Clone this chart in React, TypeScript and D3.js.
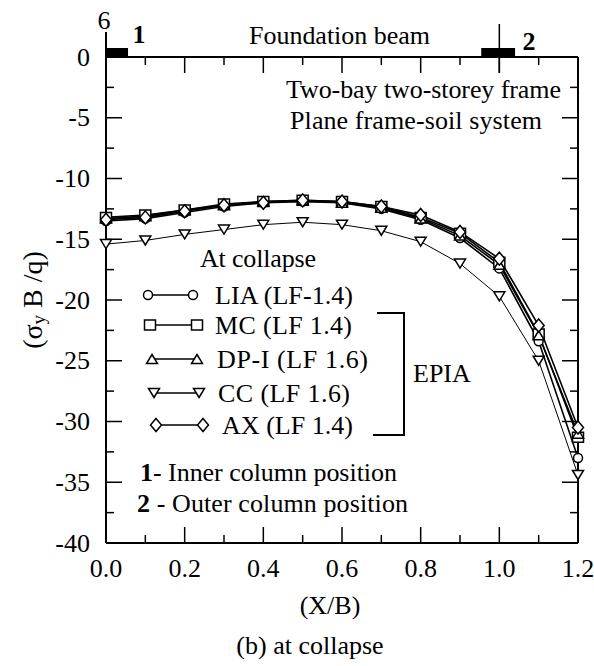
import React from "react";
import * as d3 from "d3";

const xVals = [0, 0.1, 0.2, 0.3, 0.4, 0.5, 0.6, 0.7, 0.8, 0.9, 1.0, 1.1, 1.2];
const liaVals = [-13.5, -13.3, -12.8, -12.3, -12.0, -11.9, -12.0, -12.5, -13.4, -14.9, -17.4, -23.4, -33.0];
const mcVals = [-13.2, -13.0, -12.6, -12.1, -11.9, -11.8, -11.9, -12.3, -13.2, -14.5, -16.9, -22.8, -31.3];
const dpVals = [-13.3, -13.1, -12.6, -12.2, -11.9, -11.8, -12.0, -12.4, -13.3, -14.7, -17.1, -22.9, -31.0];
const ccVals = [-15.4, -15.1, -14.6, -14.2, -13.8, -13.6, -13.8, -14.3, -15.2, -17.0, -19.7, -25.0, -34.4];
const axVals = [-13.4, -13.2, -12.7, -12.2, -12.0, -11.8, -11.9, -12.3, -13.0, -14.4, -16.6, -22.1, -30.5];

const seriesNames = ["LIA (LF-1.4)", "MC (LF 1.4)", "DP-I  (LF 1.6)", "CC (LF 1.6)", "AX (LF 1.4)"];
const seriesSymbols = ["circle", "square", "triUp", "triDown", "diamond"];
const seriesValues = [liaVals, mcVals, dpVals, ccVals, axVals];

const xTickLabels = ["0.0", "0.2", "0.4", "0.6", "0.8", "1.0", "1.2"];
const yTickValues = [0, -5, -10, -15, -20, -25, -30, -35, -40];

const FONT = "'Liberation Serif', 'Times New Roman', serif";

function symbolPath(type: string, cx: number, cy: number, s = 1): string {
  switch (type) {
    case "circle": {
      const r = 4.5 * s;
      return `M${cx - r},${cy}a${r},${r} 0 1,0 ${2 * r},0a${r},${r} 0 1,0 ${-2 * r},0Z`;
    }
    case "square": {
      const w = 5.5 * s, h = 5 * s;
      return `M${cx - w},${cy - h}H${cx + w}V${cy + h}H${cx - w}Z`;
    }
    case "triUp": {
      const w = 5.5 * s, h = 4.5 * s;
      return `M${cx},${cy - h}L${cx + w},${cy + h}L${cx - w},${cy + h}Z`;
    }
    case "triDown": {
      const w = 5.5 * s, h = 4.5 * s;
      return `M${cx - w},${cy - h}L${cx + w},${cy - h}L${cx},${cy + h}Z`;
    }
    default: {
      const w = 5.5 * s, h = 6.5 * s;
      return `M${cx},${cy - h}L${cx + w},${cy}L${cx},${cy + h}L${cx - w},${cy}Z`;
    }
  }
}

export default function App() {
  const W = 594, H = 666;
  const FS = 26;
  const x = d3.scaleLinear().domain([0, 1.2]).range([106, 578]);
  const y = d3.scaleLinear().domain([0, -40]).range([57, 543]);
  const line = d3.line<number>().x((_, i) => x(xVals[i])).y((v) => y(v));

  const majorX = d3.range(0, 1.2001, 0.2);
  const minorX = d3.range(0.1, 1.2, 0.2);
  const majorY = d3.range(0, -40.001, -5);
  const minorY = d3.range(-2.5, -40, -5);

  const legendRows = [
    { y: 295, x1: 148, x2: 193, tx: 215, len: 138 },
    { y: 325, x1: 150, x2: 197, tx: 215, len: 137 },
    { y: 359, x1: 152, x2: 197, tx: 217, len: 151 },
    { y: 393, x1: 154, x2: 199, tx: 218, len: 132 },
    { y: 425, x1: 156, x2: 203, tx: 222, len: 131 },
  ];

  return (
    <svg width={W} height={H} style={{ position: "absolute", left: 0, top: 0, background: "#fff" }} fontFamily={FONT}>
      <rect x={0} y={0} width={W} height={H} fill="#fff" />
      {/* frame */}
      <g stroke="#000" strokeWidth={2} fill="none">
        <line x1={x(0)} y1={32} x2={x(0)} y2={y(-40)} />
        <line x1={x(0)} y1={y(0)} x2={x(1.2)} y2={y(0)} />
        <line x1={x(1.2)} y1={y(0)} x2={x(1.2)} y2={y(-40)} />
        <line x1={x(0)} y1={y(-40)} x2={x(1.2)} y2={y(-40)} />
      </g>
      {/* ticks */}
      <g stroke="#000" strokeWidth={1.5}>
        {majorX.map((v, i) => (
          <g key={"mx" + i}>
            <line x1={x(v)} x2={x(v)} y1={y(0)} y2={y(0) + 16} />
            <line x1={x(v)} x2={x(v)} y1={y(-40)} y2={y(-40) - 16} />
          </g>
        ))}
        {minorX.map((v, i) => (
          <g key={"nx" + i}>
            <line x1={x(v)} x2={x(v)} y1={y(0)} y2={y(0) + 8} />
            <line x1={x(v)} x2={x(v)} y1={y(-40)} y2={y(-40) - 8} />
          </g>
        ))}
        {majorY.map((v, i) => (
          <g key={"my" + i}>
            <line x1={x(0)} x2={x(0) + 16} y1={y(v)} y2={y(v)} />
            <line x1={x(1.2)} x2={x(1.2) - 16} y1={y(v)} y2={y(v)} />
          </g>
        ))}
        {minorY.map((v, i) => (
          <g key={"ny" + i}>
            <line x1={x(0)} x2={x(0) + 8} y1={y(v)} y2={y(v)} />
            <line x1={x(1.2)} x2={x(1.2) - 8} y1={y(v)} y2={y(v)} />
          </g>
        ))}
      </g>
      {/* tick labels */}
      <g fontSize={FS} fill="#000">
        {yTickValues.map((v, i) => (
          <text key={"yl" + i} x={90} y={y(v)} textAnchor="end" dominantBaseline="central">
            {String(v)}
          </text>
        ))}
        {xTickLabels.map((t, i) => (
          <text key={"xl" + i} x={x(+t)} y={568} textAnchor="middle" dominantBaseline="central">
            {t}
          </text>
        ))}
        <text x={104} y={20} textAnchor="middle" dominantBaseline="central">6</text>
      </g>
      {/* axis titles */}
      <text x={330} y={605} fontSize={FS} textAnchor="middle" dominantBaseline="central">(X/B)</text>
      <text x={310} y={645} fontSize={FS} textAnchor="middle" dominantBaseline="central">(b) at collapse</text>
      <text transform="translate(32,300) rotate(-90)" fontSize={28} textAnchor="middle" dominantBaseline="central">
        (σ<tspan fontSize={19} dy={6}>y</tspan><tspan dy={-6}> B /q)</tspan>
      </text>
      {/* foundation beam */}
      <rect x={x(0)} y={48} width={x(0.056) - x(0)} height={y(0) - 48} fill="#000" />
      <rect x={x(0.954)} y={48} width={x(1.04) - x(0.954)} height={y(0) - 48} fill="#000" />
      <line x1={x(1.0)} x2={x(1.0)} y1={24} y2={y(0) + 16} stroke="#000" strokeWidth={1.5} />
      <text x={139} y={34} fontSize={FS} fontWeight="bold" textAnchor="middle" dominantBaseline="central">1</text>
      <text x={529} y={41} fontSize={FS} fontWeight="bold" textAnchor="middle" dominantBaseline="central">2</text>
      <text x={249} y={35} fontSize={FS} dominantBaseline="central" textLength={181} lengthAdjust="spacing">Foundation beam</text>
      <text x={286} y={89} fontSize={FS} dominantBaseline="central" textLength={275} lengthAdjust="spacing">Two-bay two-storey frame</text>
      <text x={290} y={120} fontSize={FS} dominantBaseline="central" textLength={252} lengthAdjust="spacing">Plane frame-soil system</text>
      {/* series lines */}
      <g fill="none" stroke="#000">
        {seriesValues.map((vals, i) => (
          <path key={"l" + i} d={line(vals) || ""} strokeWidth={i === 3 ? 1 : 1.6} />
        ))}
      </g>
      {/* markers */}
      <g fill="#fff" stroke="#000" strokeWidth={1.5}>
        {seriesValues.map((vals, i) =>
          vals.map((v, j) => (
            <path key={"m" + i + "-" + j} d={symbolPath(seriesSymbols[i], x(xVals[j]), y(v))} />
          ))
        )}
      </g>
      {/* legend */}
      <text x={200} y={258} fontSize={FS} dominantBaseline="central" textLength={116} lengthAdjust="spacing">At collapse</text>
      {legendRows.map((r, i) => (
        <g key={"lg" + i}>
          <line x1={r.x1} x2={r.x2} y1={r.y} y2={r.y} stroke="#000" strokeWidth={1.5} />
          <path d={symbolPath(seriesSymbols[i], r.x1, r.y)} fill="#fff" stroke="#000" strokeWidth={1.5} />
          <path d={symbolPath(seriesSymbols[i], r.x2, r.y)} fill="#fff" stroke="#000" strokeWidth={1.5} />
          <text x={r.tx} y={r.y} fontSize={FS} dominantBaseline="central" textLength={r.len} lengthAdjust="spacing">{seriesNames[i]}</text>
        </g>
      ))}
      <path d="M377,313H404V435H373" fill="none" stroke="#000" strokeWidth={2} />
      <text x={413} y={373} fontSize={FS} dominantBaseline="central">EPIA</text>
      <text x={140} y={472} fontSize={FS} dominantBaseline="central" textLength={257} lengthAdjust="spacing">
        <tspan fontWeight="bold">1</tspan>- Inner column position
      </text>
      <text x={137} y={503} fontSize={FS} dominantBaseline="central" textLength={271} lengthAdjust="spacing">
        <tspan fontWeight="bold">2</tspan> - Outer column position
      </text>
    </svg>
  );
}
